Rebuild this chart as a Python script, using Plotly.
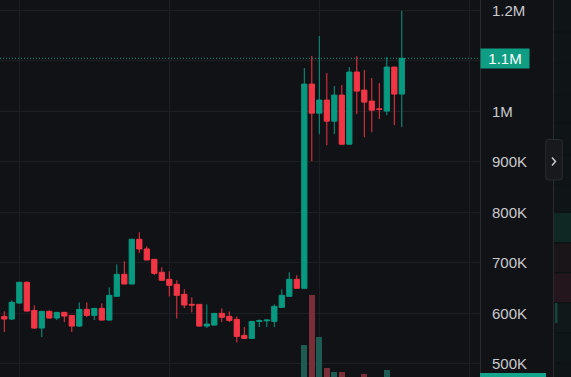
import plotly.graph_objects as go

# ---- data (prices in thousands) ----
idx = list(range(54))
open_k = [593.9, 588.6, 620.3, 661.4, 605.8, 570.8, 603.9, 590.6, 601.9, 595.9,
          574.7, 607.8, 595.9, 609.8, 586.6, 633.6, 677.2, 658.0, 746.6, 727.4,
          706.9, 681.2, 667.3, 657.4, 637.6, 617.7, 617.7, 574.7, 576.7, 599.9,
          593.9, 588.0, 556.3, 550.3, 584.0, 585.0, 584.0, 611.8, 633.6, 667.3,
          649.5, 1053.9, 996.4, 1022.2, 980.5, 1032.1, 934.9, 1077.7, 1042.0, 1020.2,
          1004.9, 1000.4, 1087.6, 1034.1]
high_k = [603.9, 625.7, 662.0, 663.3, 615.8, 604.5, 605.8, 602.5, 602.5, 596.5,
          621.7, 621.7, 610.5, 619.7, 651.4, 697.0, 703.0, 747.5, 760.5, 732.7,
          707.5, 691.1, 683.2, 665.4, 647.5, 631.6, 618.0, 617.7, 600.5, 609.8,
          603.9, 593.9, 572.7, 584.5, 588.0, 588.0, 617.7, 647.5, 681.2, 675.2,
          1085.6, 1109.4, 1149.0, 1075.7, 1049.9, 1051.9, 1087.6, 1109.4, 1081.6, 1065.8,
          1055.9, 1107.4, 1088.0, 1198.6]
low_k = [562.8, 586.6, 619.0, 604.0, 568.8, 552.9, 590.0, 586.6, 582.6, 562.8,
         572.7, 592.6, 586.6, 586.0, 586.0, 633.0, 657.5, 657.5, 719.4, 705.0,
         675.8, 665.0, 633.6, 590.0, 610.4, 601.9, 574.0, 570.7, 576.0, 582.6,
         582.6, 542.4, 549.5, 549.5, 572.7, 572.7, 572.7, 611.0, 633.0, 649.0,
         649.0, 901.2, 954.8, 932.9, 954.8, 934.0, 934.0, 994.4, 948.8, 958.7,
         984.5, 992.4, 972.6, 968.6]
close_k = [588.6, 621.7, 661.4, 604.4, 570.8, 603.9, 590.6, 601.9, 594.5, 574.7,
           607.8, 595.9, 609.8, 586.6, 635.6, 677.2, 658.0, 746.6, 727.4, 705.6,
           679.2, 665.4, 655.4, 635.6, 616.3, 616.5, 574.7, 578.7, 599.9, 592.0,
           586.0, 554.3, 550.3, 584.0, 585.4, 586.6, 613.8, 635.6, 667.3, 649.5,
           1053.9, 996.4, 1022.2, 980.5, 1032.1, 934.9, 1077.7, 1040.0, 1018.2, 1002.3,
           1003.7, 1087.6, 1034.1, 1105.0]
# volume in millions
volume_m = [0] * 40 + [3.2, 8.2, 4.0, 0.9, 0.5, 0.5, 0, 0, 0.3, 0, 0, 0.7, 0, 0]

tick_vals_k = [500, 600, 700, 800, 900, 1000, 1100, 1200]
# the 1.1M tick is hidden under the last-price label, which shows the same text
tick_text = ["500K", "600K", "700K", "800K", "900K", "1M", "", "1.2M"]
last_label = "1.1M"

opens = [v * 1000 for v in open_k]
highs = [v * 1000 for v in high_k]
lows = [v * 1000 for v in low_k]
closes = [v * 1000 for v in close_k]
volumes = [v * 1e6 for v in volume_m]
tick_vals = [v * 1000 for v in tick_vals_k]

UP = "#089981"
DOWN = "#f23645"
BG = "#111216"
GRID = "#1e1f23"
AXLINE = "#2a2b30"
TXT = "#c9cacd"

vol_colors = ["#1c5c52" if c >= o else "#7a2e37" for o, c in zip(opens, closes)]

fig = go.Figure()
fig.add_trace(go.Bar(x=idx, y=volumes, marker=dict(color=vol_colors, line=dict(width=0)),
                     width=0.85, yaxis="y2", hoverinfo="skip"))
fig.add_trace(go.Candlestick(
    x=idx, open=opens, high=highs, low=lows, close=closes,
    increasing=dict(line=dict(color=UP, width=1), fillcolor=UP),
    decreasing=dict(line=dict(color=DOWN, width=1), fillcolor=DOWN),
    whiskerwidth=0, hoverinfo="skip",
))

W, H = 571, 377
plot_right = 480
pw = plot_right
ph = H

def px(x):
    return x / pw

def py(y):
    return 1 - y / ph

shapes = []
# price line
shapes.append(dict(type="line", xref="paper", x0=0, x1=1, yref="y", y0=closes[-1], y1=closes[-1],
                   line=dict(color=UP, width=1, dash="1px,2px")))
# right side panel
shapes.append(dict(type="rect", xref="paper", yref="paper", x0=px(553.5), x1=px(572), y0=0, y1=1,
                   fillcolor="#0f1517", line=dict(width=0), layer="below"))
for (y0, y1, col) in [(213, 242, "#0f2824"), (243, 272, "#1a1519"), (273, 302, "#24161d"),
                      (303, 333, "#10181a"), (333, 363, "#0f1618")]:
    shapes.append(dict(type="rect", xref="paper", yref="paper", x0=px(554), x1=px(572),
                       y0=py(y1), y1=py(y0), fillcolor=col, line=dict(width=0), layer="below"))
for yy in [32, 63, 95, 123, 155, 185, 212, 243, 273, 303, 333, 363]:
    shapes.append(dict(type="line", xref="paper", yref="paper", x0=px(554), x1=px(572),
                       y0=py(yy), y1=py(yy), line=dict(color="#0c1012", width=1), layer="below"))
shapes.append(dict(type="rect", xref="paper", yref="paper", x0=px(555), x1=px(557.5),
                   y0=py(323), y1=py(303), fillcolor="#14463c", line=dict(width=0)))
shapes.append(dict(type="line", xref="paper", yref="paper", x0=px(553.5), x1=px(553.5), y0=0, y1=1,
                   line=dict(color=AXLINE, width=1)))
# bottom volume label stub
shapes.append(dict(type="rect", xref="paper", yref="paper", x0=px(480), x1=px(546), y0=0, y1=py(373),
                   fillcolor="#13a58b", line=dict(width=0)))
# scroll button (rounded)
bx0, bx1, by0, by1, r = 545.7, 562.3, 139.5, 180, 3
path = (f"M {px(bx0 + r)},{py(by0)} L {px(bx1 - r)},{py(by0)} Q {px(bx1)},{py(by0)} {px(bx1)},{py(by0 + r)} "
        f"L {px(bx1)},{py(by1 - r)} Q {px(bx1)},{py(by1)} {px(bx1 - r)},{py(by1)} "
        f"L {px(bx0 + r)},{py(by1)} Q {px(bx0)},{py(by1)} {px(bx0)},{py(by1 - r)} "
        f"L {px(bx0)},{py(by0 + r)} Q {px(bx0)},{py(by0)} {px(bx0 + r)},{py(by0)} Z")
shapes.append(dict(type="path", xref="paper", yref="paper", path=path,
                   fillcolor="#18191d", line=dict(color="#2b2c31", width=1)))
shapes.append(dict(type="path", xref="paper", yref="paper",
                   path=f"M {px(552)},{py(157.5)} L {px(555.5)},{py(161.5)} L {px(552)},{py(165.5)}",
                   line=dict(color="#c9cacd", width=1.5)))

annotations = [dict(xref="paper", x=1.0, xanchor="left", yref="y", y=closes[-1], yanchor="middle",
                    text=last_label, showarrow=False, bgcolor="#0f9e84",
                    font=dict(color="#ffffff", size=15, family="Liberation Sans"),
                    width=44, height=15, borderpad=2, align="center")]

fig.update_layout(
    width=W, height=H,
    margin=dict(l=0, r=W - plot_right, t=0, b=0),
    paper_bgcolor=BG, plot_bgcolor=BG,
    showlegend=False, hovermode=False,
    boxgap=0.3, boxgroupgap=0,
    bargap=0,
    shapes=shapes, annotations=annotations,
    font=dict(family="Liberation Sans", color=TXT, size=15),
    xaxis=dict(range=[-4.3 / 7.5, (plot_right - 4.3) / 7.5], rangeslider=dict(visible=False),
               showticklabels=False, tickvals=[2, 22, 42, 62], showgrid=True, gridcolor=GRID,
               gridwidth=1, zeroline=False, showline=False, fixedrange=True),
    yaxis=dict(range=[473900, 1220400], side="right", tickvals=tick_vals, ticktext=tick_text,
               showgrid=True, gridcolor=GRID, zeroline=False, showline=True, linecolor=AXLINE,
               linewidth=1, ticks="", ticklabelstandoff=8,
               tickfont=dict(size=15, color=TXT, family="Liberation Sans")),
    yaxis2=dict(range=[0, 37.7e6], overlaying="y", visible=False, showgrid=False),
)

fig.write_html("out.html")
